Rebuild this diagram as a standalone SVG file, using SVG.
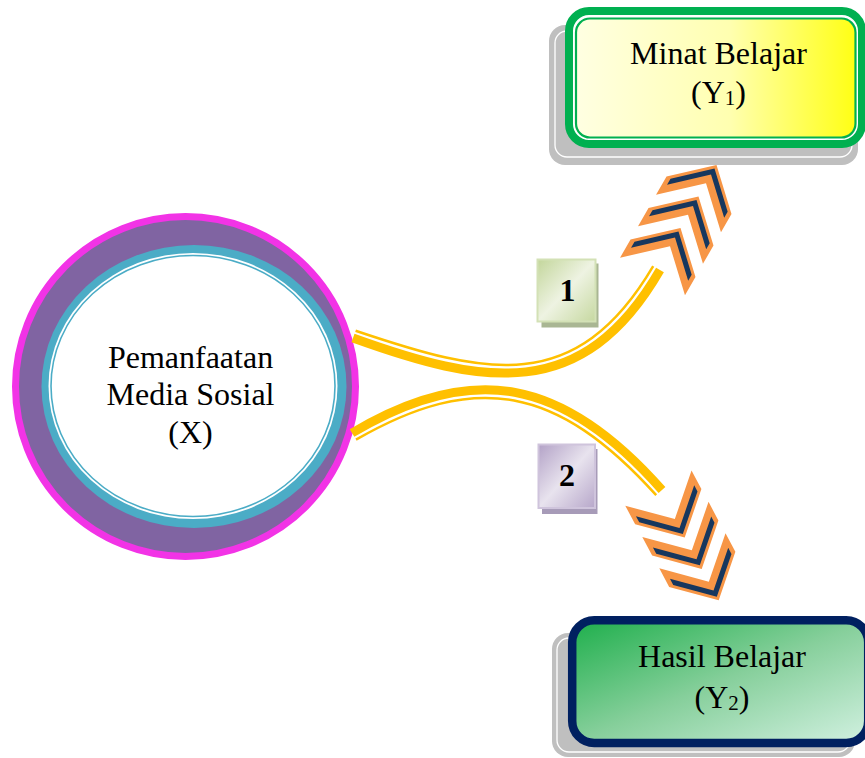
<svg xmlns="http://www.w3.org/2000/svg" width="865" height="758" viewBox="0 0 865 758">
<style>
.t{font-family:"Liberation Serif","Times New Roman",serif;font-size:32px;fill:#000;text-anchor:middle}
.n{font-family:"Liberation Serif","Times New Roman",serif;font-size:32px;font-weight:bold;fill:#000;text-anchor:middle}
.thick{fill:none;stroke:#FFC000;stroke-width:9}
.thin{fill:none;stroke:#FFC000;stroke-width:2.5}
.chev{fill:#F79646}
.chevin{fill:#17375E}
.shadow{fill:#BFBFBF}
.shline{fill:none;stroke:#FFFFFF;stroke-width:1.3}
</style>
<defs>
<linearGradient id="gY" x1="0" y1="0" x2="1" y2="0">
<stop offset="0" stop-color="#FFFFE2"/>
<stop offset="0.55" stop-color="#FFFFB0"/>
<stop offset="1" stop-color="#FFFF14"/>
</linearGradient>
<linearGradient id="gG" x1="0" y1="0" x2="1" y2="1">
<stop offset="0" stop-color="#1DAF4B"/>
<stop offset="0.5" stop-color="#86CF9B"/>
<stop offset="1" stop-color="#D2F1E1"/>
</linearGradient>
<linearGradient id="g1" x1="0" y1="0" x2="1" y2="1">
<stop offset="0" stop-color="#C3D69B"/>
<stop offset="0.5" stop-color="#EEF3E2"/>
<stop offset="1" stop-color="#C6D8A0"/>
</linearGradient>
<linearGradient id="g2" x1="0" y1="0" x2="1" y2="1">
<stop offset="0" stop-color="#B3A2C7"/>
<stop offset="0.5" stop-color="#E8E3EE"/>
<stop offset="1" stop-color="#B7A7CA"/>
</linearGradient>
<g id="chevShape">
<polygon class="chev" points="0,0 -35,-37.5 -56,-37.5 -21,0 -56,37.5 -35,37.5"/>
<polygon class="chevin" points="-4,0 -34.8,-33 -41.8,-33 -11,0 -41.8,33 -34.8,33"/>
</g>
</defs>

<g id="node-x">
<circle cx="185.5" cy="386.5" r="170" fill="#8064A2" stroke="#F233E6" stroke-width="7"/>
<ellipse cx="194" cy="386.5" rx="152.5" ry="141.5" fill="#4BACC6"/>
<ellipse cx="193" cy="386" rx="144.5" ry="133" fill="#FFFFFF"/>
<ellipse cx="193" cy="386" rx="142" ry="130.5" fill="#FFFFFF" stroke="#4BACC6" stroke-width="1.6"/>
<text class="t" x="190.5" y="368">Pemanfaatan</text>
<text class="t" x="190.5" y="404.5">Media Sosial</text>
<text class="t" x="190.5" y="442.5">(X)</text>
</g>

<g id="node-y1">
<rect class="shadow" x="549" y="25" width="309" height="140" rx="16"/>
<rect class="shline" x="555" y="31" width="297" height="126" rx="12"/>
<rect x="569" y="11" width="293" height="133" rx="20" fill="#FFFFFF" stroke="#00B050" stroke-width="8"/>
<rect x="576" y="18.5" width="279.5" height="119" rx="14" fill="url(#gY)" stroke="#00B050" stroke-width="2.2"/>
<text class="t" x="718.5" y="63.5">Minat Belajar</text>
<text class="t" x="718.5" y="102.5">(Y<tspan font-size="21" dy="2">1</tspan><tspan dy="-2">)</tspan></text>
</g>

<g id="node-y2">
<rect class="shadow" x="552" y="633" width="303" height="124" rx="16"/>
<rect class="shline" x="557" y="638" width="293" height="114" rx="12"/>
<rect x="572.2" y="620.2" width="296" height="122.8" rx="22" fill="url(#gG)" stroke="#002060" stroke-width="8.5"/>
<text class="t" x="722" y="667">Hasil Belajar</text>
<text class="t" x="722" y="707.5">(Y<tspan font-size="21" dy="2">2</tspan><tspan dy="-2">)</tspan></text>
</g>

<g id="connectors">
<path class="thick" d="M353,338 C483,384.8 582.5,404.2 660,270"/>
<path class="thin" d="M355.6,330.7 C485.6,374.5 575.7,397.3 653.2,266.1"/>
<path class="thick" d="M352,433 C472,361 563,377.5 662,490"/>
<path class="thin" d="M356,439.7 C476,370.7 557.2,385.7 656.2,495.2"/>
<g id="arrowhead-1">
<use href="#chevShape" transform="translate(716.5,165) rotate(-60)"/>
<use href="#chevShape" transform="translate(698.5,196.5) rotate(-60)"/>
<use href="#chevShape" transform="translate(680.5,228) rotate(-60)"/>
</g>
<g id="arrowhead-2">
<use href="#chevShape" transform="translate(684.7,537.6) rotate(62)"/>
<use href="#chevShape" transform="translate(701.7,568.9) rotate(62)"/>
<use href="#chevShape" transform="translate(718.7,600.2) rotate(62)"/>
</g>
</g>

<g id="label-1">
<rect x="541.5" y="263.5" width="57" height="64" fill="#A9B693"/>
<rect x="537.5" y="259.5" width="58" height="62" fill="url(#g1)" stroke="#D3E1B6" stroke-width="2"/>
<text class="n" x="567.5" y="301">1</text>
</g>

<g id="label-2">
<rect x="542" y="449" width="55.5" height="65" fill="#A79BB8"/>
<rect x="538.5" y="444.5" width="56.5" height="63.5" fill="url(#g2)" stroke="#CFC4DC" stroke-width="2"/>
<text class="n" x="567" y="486">2</text>
</g>
</svg>
